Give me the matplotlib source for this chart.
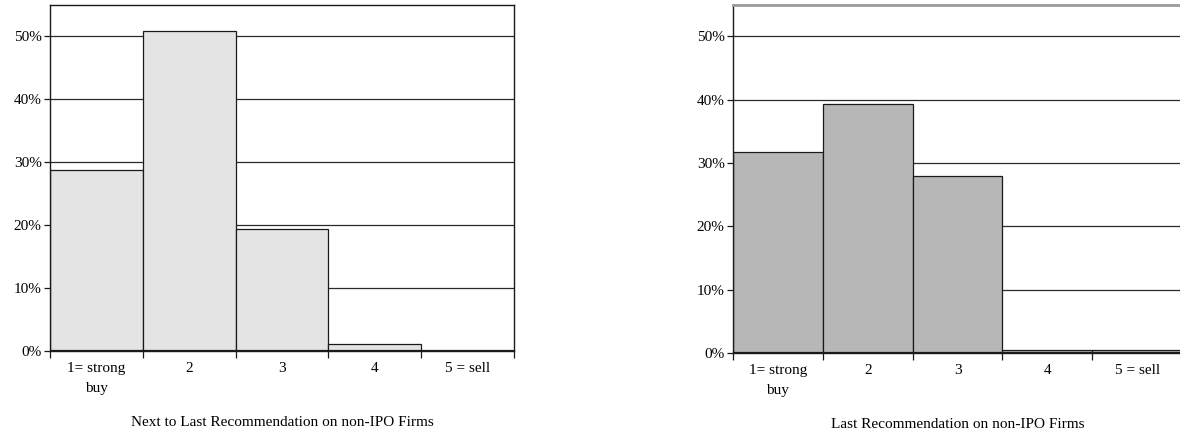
import matplotlib
matplotlib.use("Agg")
import matplotlib.pyplot as plt
from matplotlib.ticker import FuncFormatter, FixedLocator

# Recommendation categories (1 = strong buy ... 5 = sell)
categories = ["1= strong\nbuy", "2", "3", "4", "5 = sell"]

# Share of recommendations per category
next_to_last = [0.288, 0.509, 0.193, 0.010, 0.0]
last = [0.318, 0.393, 0.279, 0.005, 0.005]

titles = ["Next to Last Recommendation on non-IPO Firms",
          "Last Recommendation on non-IPO Firms"]
y_ticks = [0.0, 0.1, 0.2, 0.3, 0.4, 0.5]

plt.rcParams["font.family"] = ["Liberation Serif", "DejaVu Serif"]

fig = plt.figure(figsize=(11.8, 4.37), dpi=100)
ax_left = fig.add_axes([0.0424, 0.1975, 0.3932, 0.7917])
ax_right = fig.add_axes([0.6212, 0.1922, 0.3805, 0.7975])


def draw_panel(ax, values, title, face):
    n = len(values)
    xs = [i + 0.5 for i in range(n)]
    ax.set_xlim(0, n)
    ax.set_ylim(0, 0.55)
    for y in y_ticks[1:]:
        ax.axhline(y, color="#2a2a2a", lw=0.9, zorder=1)
    ax.bar(xs, values, width=1.0, color=face, edgecolor="#1a1a1a",
           linewidth=0.9, zorder=2)
    ax.axhline(0, color="#1a1a1a", lw=1.6, zorder=3)

    ax.yaxis.set_major_locator(FixedLocator(y_ticks))
    ax.yaxis.set_major_formatter(FuncFormatter(lambda v, p: f"{v*100:.0f}%"))
    ax.tick_params(axis="y", length=4, width=0.9, pad=2, labelsize=11,
                   color="#1a1a1a")

    ax.xaxis.set_major_locator(FixedLocator(list(range(n + 1))))
    ax.xaxis.set_minor_locator(FixedLocator(xs))
    ax.set_xticklabels([""] * (n + 1))
    labels = ax.set_xticklabels(categories, minor=True)
    for lab in labels:
        lab.set_linespacing(1.7)
    ax.tick_params(axis="x", which="minor", length=0, pad=8, labelsize=11)
    ax.tick_params(axis="x", which="major", length=5, width=0.9,
                   color="#1a1a1a")
    ax.set_xlabel(title, fontsize=11, labelpad=15)
    for side in ("left", "bottom"):
        ax.spines[side].set_linewidth(1.0)
        ax.spines[side].set_color("#1a1a1a")


draw_panel(ax_left, next_to_last, titles[0], "#e4e4e4")
ax_left.spines["top"].set_color("#1a1a1a")
ax_left.spines["top"].set_linewidth(1.0)
ax_left.spines["right"].set_color("#1a1a1a")
ax_left.spines["right"].set_linewidth(1.0)

draw_panel(ax_right, last, titles[1], "#b7b7b7")
ax_right.spines["top"].set_color("#9a9a9a")
ax_right.spines["top"].set_linewidth(2.0)
ax_right.spines["right"].set_visible(False)

fig.savefig("out.png", dpi=100, facecolor="white")
